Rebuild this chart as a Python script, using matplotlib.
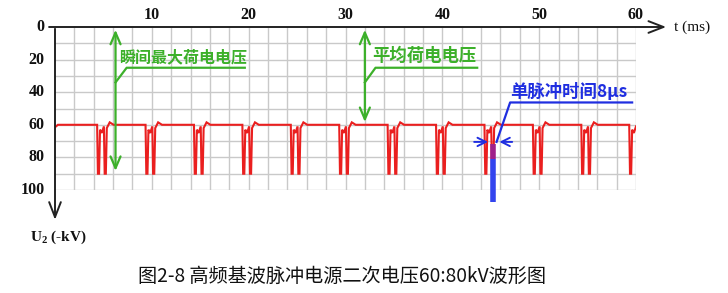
import matplotlib
matplotlib.use("Agg")
import matplotlib.pyplot as plt
import numpy as np

plt.rcParams['font.family'] = ['Noto Sans CJK SC', 'DejaVu Sans']
plt.rcParams['mathtext.fontset'] = 'custom'
plt.rcParams['mathtext.rm'] = 'Liberation Serif:bold'
plt.rcParams['mathtext.it'] = 'Liberation Serif:bold'
plt.rcParams['mathtext.bf'] = 'Liberation Serif:bold'

# ---- data ----
x_ticks = [10, 20, 30, 40, 50, 60]
y_ticks = [0, 20, 40, 60, 80, 100]
baseline_kv = 60.0
group_starts_ms = [4.35, 9.35, 14.35, 19.35, 24.35, 29.35, 34.35, 39.35,
                   44.35, 49.35, 54.35, 59.30]
pulse_dt_ms = [0.00, 0.08, 0.20, 0.30, 0.48, 0.70, 0.78, 0.90, 1.00, 1.30, 1.70]
pulse_kv = [60.0, 90.0, 90.0, 63.0, 65.0, 61.0, 90.0, 90.0, 62.0, 58.5, 60.0]
peak_label = "瞬间最大荷电电压"
avg_label = "平均荷电电压"
pulse_label = "单脉冲时间8μs"
caption = "图2-8 高频基波脉冲电源二次电压60:80kV波形图"

# build waveform from the read values
t = [0.0, 0.3]
v = [61.5, baseline_kv]
for g in group_starts_ms:
    for dt, kv in zip(pulse_dt_ms, pulse_kv):
        t.append(g + dt)
        v.append(kv)
t.append(61.0)
v.append(baseline_kv)
t = np.array(t); v = np.array(v)
m = t <= 60.0
t_plot = list(t[m]); v_plot = list(v[m])
if t_plot[-1] < 60:
    t_plot.append(60.0); v_plot.append(float(np.interp(60.0, t, v)))

W, H = 728, 293
fig = plt.figure(figsize=(W / 100, H / 100), dpi=100)
x0, x1 = 55, 636
y0, y1 = 27, 190
ax = fig.add_axes([x0 / W, 1 - y1 / H, (x1 - x0) / W, (y1 - y0) / H])
ax.set_xlim(0, 60)
ax.set_ylim(100, 0)
ax.axis('off')

grid_c = '#c9c9c9'
for gx in range(2, 61, 2):
    ax.plot([gx, gx], [0, 100], color=grid_c, lw=1.0, zorder=1)
for gy in range(10, 101, 10):
    ax.plot([0, 60], [gy, gy], color=grid_c, lw=1.0, zorder=1)

red = '#ea1f1f'
ax.plot(t_plot, v_plot, color=red, lw=1.5, zorder=4, solid_joinstyle='miter')

# axes lines with arrows
axis_c = '#222222'
ax.annotate('', xy=(63.4, 0), xytext=(-0.9, 0),
            arrowprops=dict(arrowstyle='->,head_length=0.9,head_width=0.35',
                            color=axis_c, lw=1.4, mutation_scale=12),
            annotation_clip=False, zorder=6)
ax.annotate('', xy=(0, 120), xytext=(0, -0.6),
            arrowprops=dict(arrowstyle='->,head_length=0.9,head_width=0.35',
                            color=axis_c, lw=1.4, mutation_scale=12),
            annotation_clip=False, zorder=6)

tick_font = dict(family='Liberation Serif', weight='bold', fontsize=11.5, color='#111111')
for xt in x_ticks:
    ax.text(xt, -2.5, str(xt), ha='center', va='bottom', clip_on=False, **tick_font)
for yt in y_ticks:
    ax.text(-1.1, yt, str(yt), ha='right', va='center', clip_on=False, **tick_font)
ax.text(63.9, 0, 't (ms)', ha='left', va='center', clip_on=False,
        family='Liberation Serif', fontsize=11, color='#111111')
ax.text(-2.6, 129, r'U$_2$ (-kV)', ha='left', va='center', clip_on=False,
        family='Liberation Serif', weight='bold', fontsize=11, color='#111111')

# green annotations
green = '#3cb02a'
for gx, ybot in [(6.25, 90), (32.0, 60)]:
    ax.annotate('', xy=(gx, 0), xytext=(gx, ybot),
                arrowprops=dict(arrowstyle='<->,head_length=0.7,head_width=0.3',
                                color=green, lw=1.6, mutation_scale=12),
                annotation_clip=False, zorder=7)
ax.plot([6.25, 7.4, 19.6], [34, 25, 25], color=green, lw=1.6, zorder=7)
ax.plot([32.0, 33.1, 43.6], [34, 25, 25], color=green, lw=1.6, zorder=7)
ax.text(13.2, 18.5, peak_label, ha='center', va='center', color=green,
        fontsize=11.5, weight='bold', zorder=8)
ax.text(38.1, 18.0, avg_label, ha='center', va='center', color=green,
        fontsize=12.5, weight='bold', zorder=8)

# blue annotation
blue = '#1f2ee0'
ax.plot([45.25, 45.25], [72, 81], color='#a0208a', lw=4, zorder=5, solid_capstyle='butt')
ax.plot([45.25, 45.25], [81, 107.5], color='#3344ee', lw=4, zorder=5,
        solid_capstyle='butt', clip_on=False)
ax.plot([45.6, 47.0, 59.6], [70.5, 46.3, 46.3], color=blue, lw=1.6, zorder=7)
ax.annotate('', xy=(45.0, 70.5), xytext=(43.0, 70.5),
            arrowprops=dict(arrowstyle='->,head_length=0.6,head_width=0.3',
                            color=blue, lw=1.4, mutation_scale=10), zorder=7)
ax.annotate('', xy=(45.6, 70.5), xytext=(47.5, 70.5),
            arrowprops=dict(arrowstyle='->,head_length=0.6,head_width=0.3',
                            color=blue, lw=1.4, mutation_scale=10), zorder=7)
ax.text(53.1, 40.0, pulse_label, ha='center', va='center', color=blue,
        fontsize=12.5, weight='bold', zorder=8)

fig.text(342 / W, 1 - 276 / H, caption, ha='center', va='center',
         fontsize=13.8, color='#111111')

fig.savefig('out.png', dpi=100, facecolor='white')
